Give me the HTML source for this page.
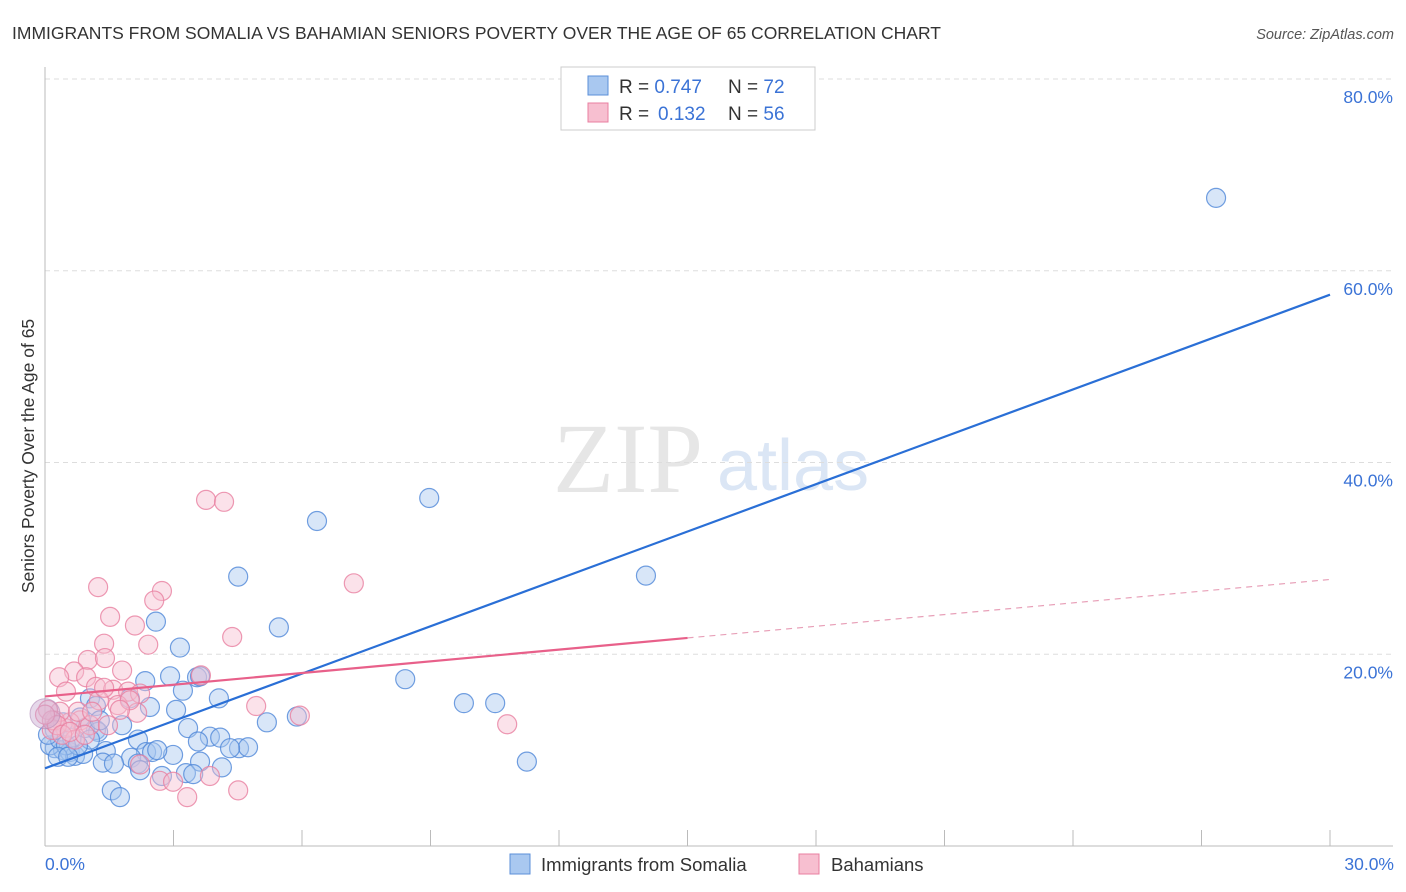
<!DOCTYPE html>
<html><head><meta charset="utf-8"><style>
body{margin:0;background:#fff;font-family:"Liberation Sans",sans-serif;}
svg{display:block}
</style></head><body>
<svg id="chart" width="1406" height="892" xmlns="http://www.w3.org/2000/svg">
<text x="12" y="39" font-size="17.5" fill="#333">IMMIGRANTS FROM SOMALIA VS BAHAMIAN SENIORS POVERTY OVER THE AGE OF 65 CORRELATION CHART</text>
<text x="1394" y="39" font-size="14.5" fill="#555" font-style="italic" text-anchor="end">Source: ZipAtlas.com</text>
<g>
<text x="553" y="492" font-family="Liberation Serif,serif" font-size="100" fill="#e6e6e6">ZIP</text>
<text x="717" y="490" font-size="72" fill="#dbe6f5">atlas</text>
</g>
<g id="grid"></g>
<g id="axes"></g>
<g id="pts"></g>
<g id="lines"></g>
<text transform="translate(34,456) rotate(-90)" font-size="17.5" fill="#333" text-anchor="middle">Seniors Poverty Over the Age of 65</text>
<text x="45" y="870" font-size="17.5" fill="#3b73d6">0.0%</text>
<text x="1394" y="870" font-size="17.5" fill="#3b73d6" text-anchor="end">30.0%</text>
<g>
<rect x="561" y="67" width="254" height="63" fill="#fff" stroke="#ccc"/>
<rect x="588" y="76" width="20" height="19" fill="#a9c8f0" stroke="#5b8fd9"/>
<rect x="588" y="103" width="20" height="19" fill="#f7bfd0" stroke="#e87fa0"/>
<text x="619" y="93" font-size="19" fill="#333">R = <tspan fill="#3b73d6">0.747</tspan><tspan x="728">N = </tspan><tspan fill="#3b73d6">72</tspan></text>
<text x="619" y="120" font-size="19" fill="#333">R = <tspan x="658" fill="#3b73d6">0.132</tspan><tspan x="728">N = </tspan><tspan fill="#3b73d6">56</tspan></text>
</g>
<g>
<rect x="510" y="854" width="20" height="20" fill="#a9c8f0" stroke="#5b8fd9"/>
<text x="541" y="871" font-size="18.5" fill="#333">Immigrants from Somalia</text>
<rect x="799" y="854" width="20" height="20" fill="#f7bfd0" stroke="#e87fa0"/>
<text x="831" y="871" font-size="18.5" fill="#333">Bahamians</text>
</g>
</svg>
<script>
const blueX=[27.34,8.97,6.35,4.51,14.03,5.46,2.59,3.15,8.41,9.78,10.51,11.25,2.92,3.55,3.62,3.22,4.06,2.34,1.05,1.98,1.19,2.45,3.06,5.18,5.88,1.80,3.34,1.19,2.17,3.85,3.57,4.09,4.53,4.74,2.99,1.42,2.36,2.50,2.01,2.62,3.62,1.35,1.61,4.13,3.29,3.46,2.73,2.17,1.56,1.75,0.23,0.42,0.58,0.70,0.89,0.12,0.35,0.63,0.93,1.24,0.42,0.82,0.23,1.05,0.07,0.49,0.77,1.28,0.30,0.54,2.22,4.32];
const blueY=[67.6,36.3,33.9,28.1,28.2,22.8,23.4,20.7,17.4,14.9,14.9,8.8,17.7,17.6,17.7,16.2,15.4,17.2,15.4,15.4,14.6,14.5,14.2,12.9,13.5,12.6,12.3,12.1,11.1,11.4,10.9,11.3,10.2,10.3,9.5,9.9,9.8,9.8,9.2,10.0,8.8,8.7,8.6,8.2,7.6,7.5,7.3,8.6,5.8,5.1,10.2,10.0,9.8,9.4,9.6,10.5,11.1,11.3,12.3,11.9,12.9,13.4,12.1,11.1,11.6,10.5,10.5,13.1,9.3,9.3,7.9,10.2];
const pinkX=[3.76,4.18,7.21,1.24,2.73,2.55,1.52,2.10,2.41,4.37,1.38,1.00,1.40,0.68,1.80,0.33,0.96,3.64,1.19,0.49,1.59,1.94,2.22,1.26,1.70,4.93,2.15,5.95,10.79,0.82,0.47,0.58,0.16,0.23,0.70,0.35,0.07,1.05,0.77,0.16,2.22,2.68,2.99,3.32,3.85,4.51,0.28,0.00,1.98,1.38,0.40,0.58,0.93,1.75,1.47,1.10];
const pinkY=[36.1,35.9,27.4,27.0,26.6,25.6,23.9,23.0,21.0,21.8,21.1,19.4,19.6,18.2,18.3,17.6,17.6,17.8,16.6,16.1,16.3,16.1,15.9,15.2,14.7,14.6,13.9,13.6,12.7,13.1,12.3,12.9,12.1,13.1,11.1,14.0,14.2,12.6,14.0,13.1,8.5,6.8,6.7,5.1,7.3,5.8,12.6,13.7,15.2,16.5,11.6,11.9,11.6,14.2,12.6,14.0];
const blueTrend=[8.1,57.5];   // y at x=0 and x=30
const pinkTrend=[15.6,27.8];
const pinkSolidEnd=15.0;
const yTicks=[20,40,60,80];
const xTickVals=[0,3,6,9,12,15,18,21,24,27,30];

const NS="http://www.w3.org/2000/svg";
const X0=45,X1=1330,Y0=846,Y80=79;
const sx=v=>X0+(X1-X0)*v/30;
const sy=v=>Y0-(Y0-Y80)*v/80;
function mk(tag,attrs,parent){const e=document.createElementNS(NS,tag);for(const k in attrs)e.setAttribute(k,attrs[k]);parent.appendChild(e);return e;}
const grid=document.getElementById('grid'),axes=document.getElementById('axes'),pts=document.getElementById('pts'),lines=document.getElementById('lines');
yTicks.forEach(t=>{
  const l=mk('line',{x1:X0,x2:1393,y1:sy(t),y2:sy(t),stroke:'#ddd','stroke-dasharray':'5,4'},grid);
  
  
  const tx=mk('text',{x:1393,y:sy(t)+24,'font-size':17.5,fill:'#3b73d6','text-anchor':'end'},grid);
  tx.textContent=t.toFixed(1)+'%';
  
  
});
const ya=mk('line',{x1:X0,x2:X0,y1:67,y2:Y0,stroke:'#bbb'},axes);


const xa=mk('line',{x1:X0,x2:1393,y1:Y0,y2:Y0,stroke:'#bbb'},axes);


xTickVals.forEach(v=>{
  const t=mk('line',{x1:sx(v),x2:sx(v),y1:830,y2:Y0,stroke:'#bbb'},axes);
  
  
});
function drawPts(xs,ys,fill,stroke,name){
  xs.forEach((x,i)=>{
    const c=mk('circle',{cx:sx(x),cy:sy(ys[i]),r:9.5,fill:fill,'fill-opacity':0.45,stroke:stroke,'stroke-opacity':0.8,'stroke-width':1.2},pts);
    
    
  });
}
drawPts(blueX,blueY,'#a9c8f0','#4f87d8','somalia-point');
drawPts(pinkX,pinkY,'#f7bfd0','#e87fa0','bahamians-point');
const big=mk('circle',{cx:sx(0),cy:sy(13.8),r:15,fill:'#c8a8d0','fill-opacity':0.45,stroke:'#b08ab8','stroke-opacity':0.6},pts);


const bl=mk('line',{x1:sx(0),y1:sy(blueTrend[0]),x2:sx(30),y2:sy(blueTrend[1]),stroke:'#2a6fd6','stroke-width':2.2},lines);


const pm=pinkTrend[0]+(pinkTrend[1]-pinkTrend[0])*pinkSolidEnd/30;
const pl=mk('line',{x1:sx(0),y1:sy(pinkTrend[0]),x2:sx(pinkSolidEnd),y2:sy(pm),stroke:'#e8608a','stroke-width':2.2},lines);


const pd=mk('line',{x1:sx(pinkSolidEnd),y1:sy(pm),x2:sx(30),y2:sy(pinkTrend[1]),stroke:'#e8a0b8','stroke-width':1.2,'stroke-dasharray':'6,5'},lines);


</script>
</body></html>
